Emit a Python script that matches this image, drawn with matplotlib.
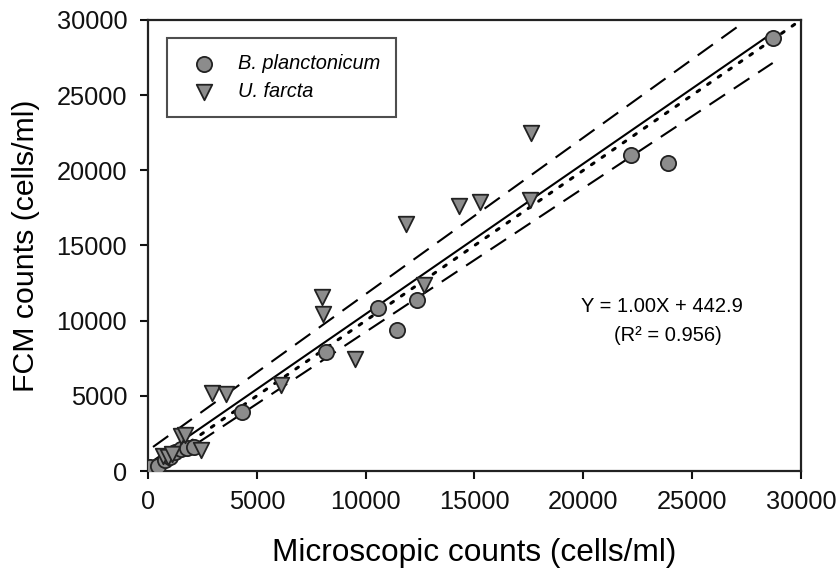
import matplotlib
matplotlib.use("Agg")
import matplotlib.pyplot as plt

plt.rcParams['font.family'] = ['Liberation Sans', 'DejaVu Sans']

# B. planctonicum: microscopic vs FCM counts (cells/ml)
bp_micro = [100, 450, 800, 1000, 1250, 1500, 1800, 2100, 4300, 8200,
            10550, 11450, 12350, 22200, 23900, 28700]
bp_fcm = [250, 350, 700, 900, 1250, 1450, 1550, 1600, 3900, 7900,
          10850, 9350, 11350, 21050, 20500, 28800]

# U. farcta
uf_micro = [700, 900, 1100, 1500, 1700, 2450, 2950, 3600, 6100, 8000,
            8050, 9500, 11850, 12700, 14300, 15250, 17550, 17600]
uf_fcm = [1000, 950, 1100, 2300, 2400, 1400, 5200, 5100, 5700, 11550,
          10450, 7450, 16450, 12350, 17600, 17900, 18000, 22500]

# regression Y = 1.00X + 442.9
slope = 1.00
intercept = 442.9
fit_x = [100, 28700]

# 1:1 line
one_x = [0, 30000]
one_y = [0, 30000]

# confidence band lines
upper_x = [230, 27200]
upper_y = [1600, 29670]
lower_x = [1200, 28700]
lower_y = [830, 27140]

fig = plt.figure(figsize=(8.39, 5.69), dpi=100)
ax = fig.add_axes([0.1764, 0.1722, 0.7783, 0.7927])

ax.plot(one_x, one_y, color='black', linestyle=(0, (1, 3.2)), linewidth=2.2,
        dash_capstyle='round', zorder=2)
ax.plot(fit_x, [slope * v + intercept for v in fit_x], color='black',
        linewidth=1.5, zorder=2)
ax.plot(upper_x, upper_y, color='black', linestyle=(0, (9, 5)),
        linewidth=1.5, zorder=2)
ax.plot(lower_x, lower_y, color='black', linestyle=(0, (9, 5)),
        linewidth=1.5, zorder=2)

ax.scatter(bp_micro, bp_fcm, s=120, marker='o', facecolor='#8c8c8c',
           edgecolor='#222222', linewidth=1.3, zorder=3,
           label='B. planctonicum')
ax.scatter(uf_micro, uf_fcm, s=125, marker='v', facecolor='#8c8c8c',
           edgecolor='#222222', linewidth=1.3, zorder=3, label='U. farcta')

ax.set_xlim(0, 30000)
ax.set_ylim(0, 30000)
ax.set_xticks(range(0, 30001, 5000))
ax.set_yticks(range(0, 30001, 5000))

for sp in ax.spines.values():
    sp.set_linewidth(1.6)
    sp.set_color('#222222')

ax.tick_params(axis='both', direction='out', length=6, width=1.5,
               labelsize=18.3, colors='#111111')
ax.tick_params(axis='x', pad=8)
ax.tick_params(axis='y', pad=9)

ax.set_xlabel('Microscopic counts (cells/ml)', fontsize=22.8, labelpad=17)
ax.set_ylabel('FCM counts (cells/ml)', fontsize=21.8, labelpad=12)

ax.text(0.787, 0.364, 'Y = 1.00X + 442.9', transform=ax.transAxes,
        fontsize=14.5, ha='center', va='center')
ax.text(0.796, 0.301, '(R\u00b2 = 0.956)', transform=ax.transAxes,
        fontsize=14.5, ha='center', va='center')

leg = ax.legend(loc='upper left', bbox_to_anchor=(0.029, 0.96),
                borderaxespad=0, prop={'style': 'italic', 'size': 14.4},
                frameon=True, fancybox=False, edgecolor='#222222',
                handlelength=2.1, handletextpad=0.65, borderpad=0.8,
                labelspacing=0.45, scatterpoints=1)
leg.get_frame().set_linewidth(1.5)

fig.savefig('out.png', dpi=100)
